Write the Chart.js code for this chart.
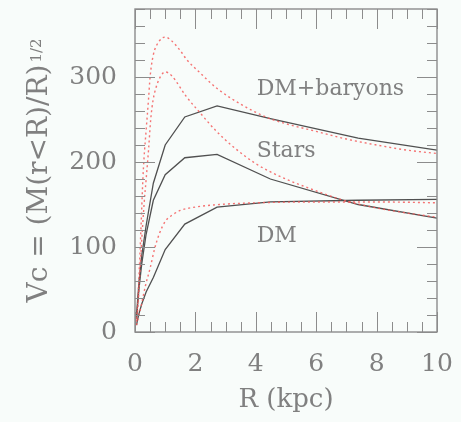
<!DOCTYPE html>
<html>
<head>
<meta charset="utf-8">
<script src="https://cdn.jsdelivr.net/npm/chart.js@4/dist/chart.umd.min.js"></script>
<style>
  html, body { margin: 0; padding: 0; background: #f8fcfa; }
  #wrap { width: 461px; height: 422px; }
</style>
</head>
<body>
<div id="wrap"><canvas id="vc"></canvas></div>
<script>
// simulation (solid black), sampled radii in kpc
const R_SIM = [0.05, 0.082, 0.135, 0.223, 0.368, 0.607, 1.0, 1.649, 2.718, 4.482, 7.389, 10];
const SIM_TOTAL = [18, 35, 60, 90, 125, 175, 220, 253, 266, 251, 228, 214];
const SIM_STARS = [15, 30, 52, 80, 115, 155, 185, 205, 209, 180, 150, 134];
const SIM_DM = [8, 14, 22, 33, 47, 64, 97, 127, 147, 153, 155, 156];

// model curves (red dotted)
const R_MOD_TOTAL = [0.05, 0.1, 0.15, 0.2, 0.26, 0.3, 0.37, 0.45, 0.5, 0.6, 0.8, 1.0, 1.2, 1.5, 1.7, 2.15, 2.7, 3.5, 4.4, 5, 6, 7, 8, 9, 10];
const MOD_TOTAL = [15, 40, 80, 124, 179, 205, 238, 275, 300, 325, 342, 347, 343, 331, 321, 305, 287, 268, 252, 245, 236, 227, 220, 214, 210];
const R_MOD_STARS = [0.05, 0.1, 0.2, 0.3, 0.37, 0.45, 0.52, 0.6, 0.7, 0.82, 1.0, 1.2, 1.7, 2.15, 2.7, 3.25, 4.0, 4.8, 6, 7, 8, 9, 10];
const MOD_STARS = [12, 32, 95, 150, 180, 215, 250, 273, 288, 299, 306, 302, 277, 258, 236, 218, 198, 183, 166, 154, 146, 140, 135];
const R_MOD_DM = [0.05, 0.2, 0.35, 0.5, 0.65, 0.8, 1.0, 1.25, 1.5, 2.0, 2.8, 4, 6, 8, 10];
const MOD_DM = [8, 30, 55, 75, 98, 115, 130, 138, 143, 147, 150, 152, 153, 153, 152];

const X_TICKS = [0, 2, 4, 6, 8, 10];
const Y_TICKS = [0, 100, 200, 300];
const CURVE_LABELS = ['DM+baryons', 'Stars', 'DM'];
const LABEL_POS = [[4.03, 279], [4.03, 206], [4.03, 106]];

const TEXT = '#808080';
const FRAME = '#8c8c8c';

function pts(xs, ys) {
    return xs.map((x, i) => ({ x: x, y: ys[i] }));
}

function simLine(xs, ys) {
    return {
        data: pts(xs, ys),
        borderColor: '#505050',
        borderWidth: 1.3,
        pointRadius: 0,
        tension: 0
    };
}

function modLine(xs, ys) {
    return {
        data: pts(xs, ys),
        borderColor: 'rgba(245, 90, 90, 0.85)',
        borderWidth: 1.4,
        borderDash: [2, 3],
        pointRadius: 0,
        cubicInterpolationMode: 'monotone'
    };
}

function noPadding(s) {
    s.paddingTop = 0;
    s.paddingBottom = 0;
    s.paddingLeft = 0;
    s.paddingRight = 0;
}

// frame with inward ticks on all four sides, curve labels, y title
const frameAndText = {
    id: 'frameAndText',
    afterDraw(chart) {
        const { ctx, chartArea: a, scales: { x, y } } = chart;
        ctx.save();
        ctx.strokeStyle = FRAME;
        ctx.lineWidth = 1.4;
        ctx.strokeRect(a.left, a.top, a.right - a.left, a.bottom - a.top);

        ctx.lineWidth = 1;
        ctx.beginPath();
        for (let i = 0; i <= 20; i++) {
            const v = i * 0.5;
            const px = Math.round(x.getPixelForValue(v)) + 0.5;
            const len = i % 4 === 0 ? 20 : 10;
            ctx.moveTo(px, a.bottom); ctx.lineTo(px, a.bottom - len);
            ctx.moveTo(px, a.top); ctx.lineTo(px, a.top + len);
        }
        for (let i = 0; i <= 19; i++) {
            const v = i * 20;
            const py = Math.round(y.getPixelForValue(v)) + 0.5;
            const len = i % 5 === 0 ? 20 : 10;
            ctx.moveTo(a.left, py); ctx.lineTo(a.left + len, py);
            ctx.moveTo(a.right, py); ctx.lineTo(a.right - len, py);
        }
        ctx.stroke();

        ctx.fillStyle = TEXT;
        ctx.font = '22px "DejaVu Serif"';
        ctx.textBaseline = 'alphabetic';
        ctx.textAlign = 'left';
        CURVE_LABELS.forEach((t, i) => {
            ctx.fillText(t, x.getPixelForValue(LABEL_POS[i][0]), y.getPixelForValue(LABEL_POS[i][1]));
        });

        // y axis title with superscript
        const main = 'Vc = (M(r<R)/R)';
        const sup = '1/2';
        ctx.translate(36, (a.top + a.bottom) / 2);
        ctx.rotate(-Math.PI / 2);
        ctx.font = '28px "DejaVu Serif"';
        const wMain = ctx.measureText(main).width;
        ctx.font = '15px "DejaVu Serif"';
        const wSup = ctx.measureText(sup).width;
        const start = -(wMain + wSup + 2) / 2;
        ctx.font = '28px "DejaVu Serif"';
        ctx.fillText(main, start, 11);
        ctx.font = '15px "DejaVu Serif"';
        ctx.fillText(sup, start + wMain + 2, 5);
        ctx.restore();
    }
};

new Chart(document.getElementById('vc'), {
    type: 'line',
    data: {
        datasets: [
            modLine(R_MOD_TOTAL, MOD_TOTAL),
            modLine(R_MOD_STARS, MOD_STARS),
            modLine(R_MOD_DM, MOD_DM),
            simLine(R_SIM, SIM_TOTAL),
            simLine(R_SIM, SIM_STARS),
            simLine(R_SIM, SIM_DM)
        ]
    },
    options: {
        responsive: true,
        maintainAspectRatio: false,
        animation: false,
        layout: { padding: { top: 9, right: 24, left: 0, bottom: 0 } },
        plugins: {
            legend: { display: false },
            tooltip: { enabled: false }
        },
        scales: {
            x: {
                type: 'linear',
                min: 0,
                max: 10,
                afterBuildTicks: s => { s.ticks = X_TICKS.map(v => ({ value: v })); },
                afterFit: s => { s.height = 90; noPadding(s); },
                grid: { display: false, drawTicks: false },
                border: { display: false },
                ticks: {
                    padding: 17,
                    color: TEXT,
                    font: { family: 'DejaVu Serif', size: 25 },
                    maxRotation: 0
                },
                title: {
                    display: true,
                    text: 'R (kpc)',
                    color: TEXT,
                    font: { family: 'DejaVu Serif', size: 26 },
                    padding: { top: 0, bottom: 6 }
                }
            },
            y: {
                type: 'linear',
                min: 0,
                max: 380,
                afterBuildTicks: s => { s.ticks = Y_TICKS.map(v => ({ value: v })); },
                afterFit: s => { s.width = 135; noPadding(s); },
                grid: { display: false, drawTicks: false },
                border: { display: false },
                ticks: {
                    padding: 18,
                    color: TEXT,
                    font: { family: 'DejaVu Serif', size: 25 }
                }
            }
        }
    },
    plugins: [frameAndText]
});
</script>
</body>
</html>
